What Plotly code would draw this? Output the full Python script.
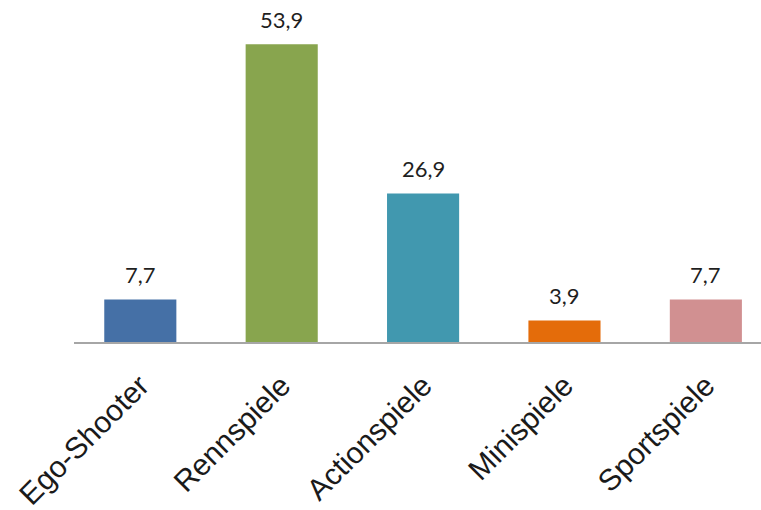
import plotly.graph_objects as go

# Genre shares (percent)
categories = ["Ego-Shooter", "Rennspiele", "Actionspiele", "Minispiele", "Sportspiele"]
values = [7.7, 53.9, 26.9, 3.9, 7.7]
colors = ["#4570A6", "#88A54E", "#4198AF", "#E46C0A", "#D19091"]
value_labels = [f"{v:.1f}".replace(".", ",") for v in values]

fig = go.Figure(
    go.Bar(
        x=categories,
        y=values,
        marker=dict(color=colors, line=dict(width=0)),
        width=0.51,
        hoverinfo="skip",
    )
)

# Value labels above each bar
for cat, v, txt in zip(categories, values, value_labels):
    fig.add_annotation(
        x=cat, y=v, text=txt, showarrow=False,
        yanchor="bottom", yshift=9,
        font=dict(family="Lato, Open Sans, sans-serif", size=22, color="#1f1f1f"),
    )

fig.update_layout(
    width=761, height=510,
    margin=dict(l=74, r=0, t=10, b=168),
    paper_bgcolor="white",
    plot_bgcolor="white",
    showlegend=False,
    xaxis=dict(
        type="category",
        range=[-0.469, 4.39],
        tickangle=-45,
        tickfont=dict(family="Liberation Sans, Arial, sans-serif", size=30, color="#1a1a1a"),
        ticklabelstandoff=12,
        showline=True, linecolor="#a6a6a6", linewidth=2,
        ticks="", showgrid=False, zeroline=False,
    ),
    yaxis=dict(
        range=[0, 60.1],
        visible=False,
        showgrid=False, zeroline=False,
    ),
)

fig.write_html("out.html")
